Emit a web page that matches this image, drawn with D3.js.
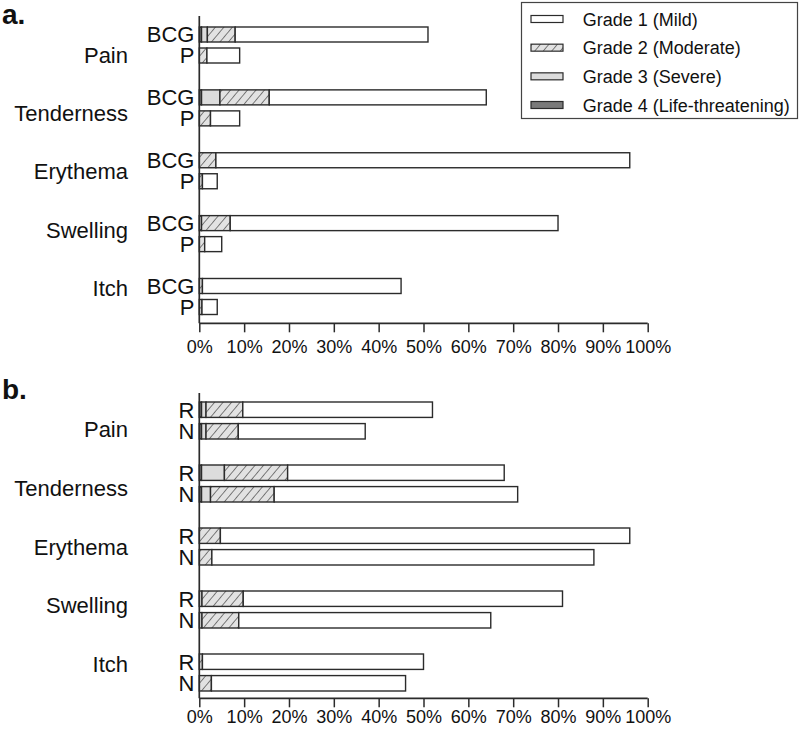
<!DOCTYPE html>
<html>
<head>
<meta charset="utf-8">
<script src="https://cdn.jsdelivr.net/npm/d3@7"></script>
<style>
  html, body { margin: 0; padding: 0; background: #fff; }
  svg { display: block; font-family: "Liberation Sans", Arial, sans-serif; }
</style>
</head>
<body>
<svg id="chart" width="800" height="732"></svg>
<script>
// ---------- data ----------
const categories = ["Pain", "Tenderness", "Erythema", "Swelling", "Itch"];
const gradeLabels = ["Grade 1 (Mild)", "Grade 2 (Moderate)", "Grade 3 (Severe)", "Grade 4 (Life-threatening)"];
const xTicks = [0, 10, 20, 30, 40, 50, 60, 70, 80, 90, 100];

// Panel a: BCG vs Placebo (percent of participants)
const groupsA = ["BCG", "P"];
const bcgG1 = [43.0, 48.4, 92.3, 73.1, 44.3];
const bcgG2 = [6.2, 11.0, 3.7, 6.4, 0.7];
const bcgG3 = [1.3, 4.1, 0, 0.5, 0];
const bcgG4 = [0.5, 0.5, 0, 0, 0];
const pG1 = [7.3, 6.5, 3.3, 3.8, 3.4];
const pG2 = [1.7, 2.5, 0.7, 1.2, 0.6];
const pG3 = [0, 0, 0, 0, 0];
const pG4 = [0, 0, 0, 0, 0];

// Panel b: R vs N
const groupsB = ["R", "N"];
const rG1 = [42.3, 48.3, 91.3, 71.2, 49.3];
const rG2 = [8.2, 14.1, 4.7, 9.2, 0.7];
const rG3 = [1.0, 5.1, 0, 0.6, 0];
const rG4 = [0.5, 0.5, 0, 0, 0];
const nG1 = [28.3, 54.3, 85.2, 56.2, 43.3];
const nG2 = [7.2, 14.2, 2.8, 8.2, 2.7];
const nG3 = [1.0, 2.0, 0, 0.6, 0];
const nG4 = [0.5, 0.5, 0, 0, 0];

// ---------- build tables ----------
function table(groupNames, seriesList) {
  const rows = [];
  categories.forEach((c, i) => {
    groupNames.forEach((g, j) => {
      const s = seriesList[j];
      rows.push({ cat: c, grp: g, g4: s[3][i], g3: s[2][i], g2: s[1][i], g1: s[0][i] });
    });
  });
  return rows;
}
const dataA = table(groupsA, [[bcgG1, bcgG2, bcgG3, bcgG4], [pG1, pG2, pG3, pG4]]);
const dataB = table(groupsB, [[rG1, rG2, rG3, rG4], [nG1, nG2, nG3, nG4]]);

// ---------- styles ----------
const stackKeys = ["g4", "g3", "g2", "g1"];
const fills = { g1: "#ffffff", g2: "url(#hatch)", g3: "#dcdcdc", g4: "#7a7a7a" };
const legendKeys = ["g1", "g2", "g3", "g4"];
const ink = "#111";
const barStroke = "#2b2b2b";

const svg = d3.select("#chart");
const defs = svg.append("defs");
const pat = defs.append("pattern")
  .attr("id", "hatch").attr("patternUnits", "userSpaceOnUse")
  .attr("width", 6.5).attr("height", 6.5)
  .attr("patternTransform", "rotate(40)");
pat.append("rect").attr("width", 6.5).attr("height", 6.5).attr("fill", "#e2e2e2");
pat.append("line").attr("x1", 0).attr("y1", 0).attr("x2", 0).attr("y2", 6.5)
  .attr("stroke", "#333").attr("stroke-width", 1.2);

const x = d3.scaleLinear().domain([0, 100]).range([199.3, 647.7]);

const panels = [
  { letter: "a.", letterY: 24, data: dataA, groups: groupsA, top: 16, axisY: 323.3,
    c0: 45, c1: 296.5, span: 36, l0: 62.5, l1: 296, tickOff: 30 },
  { letter: "b.", letterY: 399, data: dataB, groups: groupsB, top: 393, axisY: 698.3,
    c0: 420.5, c1: 672.5, span: 37, l0: 437, l1: 672, tickOff: 25 }
];

const stack = d3.stack().keys(stackKeys);

panels.forEach(p => {
  const g = svg.append("g");
  const yc = d3.scalePoint().domain(categories).range([p.c0, p.c1]);
  const yl = d3.scalePoint().domain(categories).range([p.l0, p.l1]);
  const yi = d3.scaleBand().domain(p.groups).range([-p.span / 2, p.span / 2]).paddingInner(0.2857);

  // panel letter
  g.append("text").attr("x", 2).attr("y", p.letterY)
    .attr("font-size", 28).attr("font-weight", "bold").attr("fill", ink).text(p.letter);

  // bars
  const series = stack(p.data);
  series.forEach(s => {
    g.append("g").selectAll("rect")
      .data(s.filter(d => d[1] - d[0] > 0))
      .join("rect")
      .attr("x", d => x(d[0]))
      .attr("width", d => x(d[1]) - x(d[0]))
      .attr("y", d => yc(d.data.cat) + yi(d.data.grp))
      .attr("height", yi.bandwidth())
      .attr("fill", fills[s.key])
      .attr("stroke", barStroke)
      .attr("stroke-width", 1.4);
  });

  // category labels
  g.append("g").selectAll("text").data(categories).join("text")
    .attr("x", 128).attr("y", d => yl(d))
    .attr("text-anchor", "end").attr("font-size", 22).attr("fill", ink).text(d => d);

  // group labels
  const sub = [];
  categories.forEach(c => p.groups.forEach(gr => sub.push({ c, gr })));
  g.append("g").selectAll("text").data(sub).join("text")
    .attr("x", 194.5).attr("y", d => yc(d.c) + yi(d.gr) + yi.bandwidth() / 2 + 7.9)
    .attr("text-anchor", "end").attr("font-size", 22).attr("fill", ink).text(d => d.gr);

  // axes
  g.append("line").attr("x1", x(0)).attr("x2", x(0)).attr("y1", p.top).attr("y2", p.axisY)
    .attr("stroke", barStroke).attr("stroke-width", 1.7);
  const xAxis = d3.axisBottom(x).tickValues(xTicks).tickSize(9).tickPadding(0)
    .tickFormat(d => d + "%");
  const ax = g.append("g").attr("transform", `translate(0,${p.axisY})`).call(xAxis);
  ax.select(".domain").attr("stroke", barStroke).attr("stroke-width", 1.7)
    .attr("d", `M${x(0)},0H${x(100)}`);
  ax.selectAll(".tick line").attr("stroke", barStroke).attr("stroke-width", 1.5);
  ax.selectAll(".tick text").attr("font-size", 18).attr("fill", ink)
    .attr("font-family", "Liberation Sans, Arial, sans-serif")
    .attr("dy", null).attr("y", p.tickOff);
});

// legend
const lg = svg.append("g");
lg.append("rect").attr("x", 521.5).attr("y", 2.5).attr("width", 276).attr("height", 116)
  .attr("fill", "#fff").attr("stroke", "#444").attr("stroke-width", 1.2);
const ly = d3.scalePoint().domain(legendKeys).range([19, 105]);
lg.selectAll("rect.sw").data(legendKeys).join("rect").attr("class", "sw")
  .attr("x", 531).attr("y", d => ly(d) - 3.5).attr("width", 32).attr("height", 7)
  .attr("fill", d => fills[d]).attr("stroke", barStroke).attr("stroke-width", 1.2);
lg.selectAll("text").data(legendKeys).join("text")
  .attr("x", 582.7).attr("y", d => ly(d) + 6.5)
  .attr("font-size", 18).attr("fill", ink)
  .text((d, i) => gradeLabels[i]);
</script>
</body>
</html>
